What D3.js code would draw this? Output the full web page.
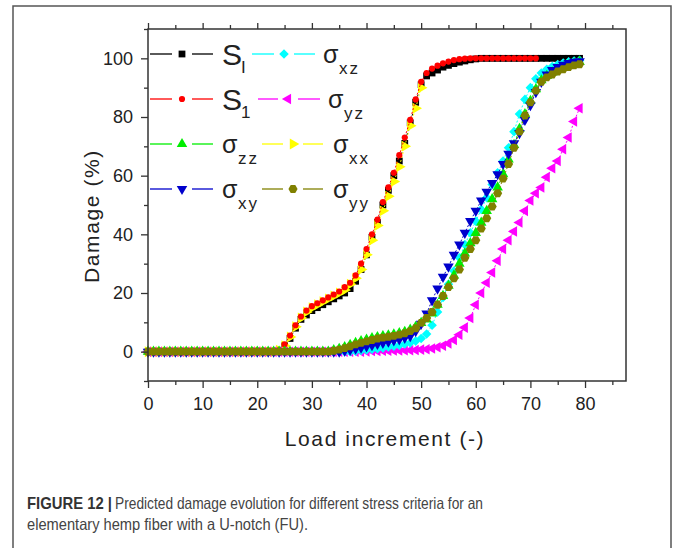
<!DOCTYPE html>
<html>
<head>
<meta charset="utf-8">
<script src="https://cdn.jsdelivr.net/npm/d3@7"></script>
<style>
  body { margin: 0; background: #fff; }
  text { font-family: "Liberation Sans", Arial, sans-serif; }
</style>
</head>
<body>
<svg id="canvas"></svg>
<script>
// damage (%) per load increment, index = load increment
let sL = [0,0,0,0,0,0,0,0,0,0,
          0,0,0,0,0,0,0,0,0,0,
          0,0,0,0,0.5,2,4.5,8,11,12.5,
          14,15,16,17,18,19,20,21.5,24,28,
          33,39,44,50,55,60,65,71,78,85,
          91,94,95,96,97,97.6,98.2,98.7,99.1,99.5,
          99.8,100,100,100,100,100,100,100,100,100,
          100,100,100,100,100,100,100,100,100,100];
let s1 = [0,0,0,0,0,0,0,0,0,0,
          0,0,0,0,0,0,0,0,0,0,
          0,0,0,0,0.5,2.5,5.5,9,12,14,
          15.5,16.5,17.5,18.5,19.5,20.5,22,23.5,26,30,
          35,40,45,51,56,61,67,73,79,86,
          92,95,96.5,97.5,98.3,98.9,99.4,99.7,99.9,100,
          100,100,100,100,100,100,100,100,100,100,
          100,100];
let sigXX = [0,0,0,0,0,0,0,0,0,0,
             0,0,0,0,0,0,0,0,0,0,
             0,0,0,0,0.5,2,5,8.5,11.5,13.5,
             15,16,17,18,19,20,21,23,25,28,
             33,38,43,48,53,58,63,70,77,83,
             90];
let sigYY = [0,0,0,0,0,0,0,0,0,0,
             0,0,0,0,0,0,0,0,0,0,
             0,0,0,0,0,0,0,0,0,0,
             0,0,0,0,0.3,0.7,1.2,1.8,2.5,3,
             3.5,4,4.5,4.8,5.1,5.4,5.8,6.3,7,8,
             9.8,11.5,13.5,16,19,22,25,28,32,35,
             38,42,45.5,49.5,54,59,64,69.5,75,80.5,
             85,89,92,93.5,94.5,95.5,96.3,97,97.6,98];
let sigZZ = [0,0,0,0,0,0,0,0,0,0,
             0,0,0,0,0,0,0,0,0,0,
             0,0,0,0,0,0,0,0,0,0,
             0,0,0,0,0.5,1,1.6,2.3,3,3.6,
             4.1,4.6,5,5.3,5.6,5.9,6.3,6.8,7.5,8.5,
             9.8,11,13,16,19,22.5,26,30,33.5,37,
             40.5,44,48,52,56,60.5,65.5,70.5,76,81,
             85.5,89.5,92.5,94,95.2,96.2,97,97.7,98.3,98.8];
let sigXY = [0,0,0,0,0,0,0,0,0,0,
             0,0,0,0,0,0,0,0,0,0,
             0,0,0,0,0,0,0,0,0,0,
             0,0,0,0,0,0,0.3,0.6,1,1.4,
             1.8,2.2,2.6,3,3.4,3.8,4.2,4.7,5.3,7,
             9.5,13,17.5,21.5,25.5,29,33,36.5,40.5,44.5,
             48,51.5,54.5,57.5,60.5,64,67.5,71,74.5,79,
             84,88.5,92,94.5,96,97,97.8,98.4,98.8,99];
let sigXZ = [0,0,0,0,0,0,0,0,0,0,
             0,0,0,0,0,0,0,0,0,0,
             0,0,0,0,0,0,0,0,0,0,
             0,0,0,0,0,0,0,0,0.2,0.4,
             0.6,0.8,1,1.3,1.6,1.9,2.2,2.6,3,3.6,
             4.5,6,9,13.5,18.5,23,27.5,32,36.5,40.5,
             44.5,48.5,52.5,57,61,65,69.5,75,81,86,
             90,93,95,96.3,97.2,97.9,98.4,98.8,99.1,99.3];
let sigYZ = [0,0,0,0,0,0,0,0,0,0,
             0,0,0,0,0,0,0,0,0,0,
             0,0,0,0,0,0,0,0,0,0,
             0,0,0,0,0,0,0,0,0,0,
             0.1,0.2,0.2,0.3,0.3,0.4,0.4,0.5,0.5,0.6,
             0.7,0.8,1.1,1.5,2,2.8,4,5.8,8.2,11.5,
             16,20,23.5,27,31,35,38,41,44,48,
             51.5,54,56,59.5,62.5,65,69,73,78.5,83];

let xTicks = [0, 10, 20, 30, 40, 50, 60, 70, 80];
let xMinor = [5, 15, 25, 35, 45, 55, 65, 75, 85];
let yTicks = [0, 20, 40, 60, 80, 100];
let yMinor = [-10, 10, 30, 50, 70, 90, 110];

let width = 673;
let height = 548;
let plotLeft = 148, plotRight = 626, plotTop = 29, plotBottom = 381;

let hexagon = {
    draw: (ctx, size) => {
        let r = Math.sqrt(size / (3 * Math.sqrt(3) / 2));
        for (let i = 0; i < 6; i++) {
            let a = Math.PI / 3 * i;
            if (i == 0) ctx.moveTo(r * Math.cos(a), r * Math.sin(a));
            else ctx.lineTo(r * Math.cos(a), r * Math.sin(a));
        }
        ctx.closePath();
    }
};

// marker: [symbol type, rotation, size]
let markers = {
    square: [d3.symbolSquare, 0, 46],
    circle: [d3.symbolCircle, 0, 30],
    up: [d3.symbolTriangle, 0, 48],
    down: [d3.symbolTriangle, 180, 48],
    left: [d3.symbolTriangle, -90, 48],
    right: [d3.symbolTriangle, 90, 52],
    diamond: [d3.symbolSquare, 45, 46],
    hex: [hexagon, 0, 54]
};

// drawn in this order
let series = [
    {key: "l", data: sL, color: "#000000", marker: "square"},
    {key: "xx", data: sigXX, color: "#ffff00", marker: "right"},
    {key: "1", data: s1, color: "#ff0000", marker: "circle"},
    {key: "yz", data: sigYZ, color: "#ff00ff", marker: "left"},
    {key: "xz", data: sigXZ, color: "#00ffff", marker: "diamond"},
    {key: "zz", data: sigZZ, color: "#00ee00", marker: "up"},
    {key: "xy", data: sigXY, color: "#0000cc", marker: "down"},
    {key: "yy", data: sigYY, color: "#808000", marker: "hex"}
];

// legend: key, big letter, subscript, row y, line start/end, marker x, text x
let legendRows = [
    ["l", "S", "I", 54, 150, 213, 182, 222],
    ["1", "S", "1", 99, 150, 213, 182, 222],
    ["zz", "σ", "zz", 144, 150, 213, 182, 222],
    ["xy", "σ", "xy", 189, 150, 213, 182, 222],
    ["xz", "σ", "xz", 54, 252, 315, 284, 323],
    ["yz", "σ", "yz", 99, 258, 320, 288, 328],
    ["xx", "σ", "xx", 144, 262, 323, 293, 333],
    ["yy", "σ", "yy", 189, 262, 323, 293, 333]
];

let canvas = d3.select("#canvas")
    .attr("width", width)
    .attr("height", height);

canvas.append("rect")
    .attr("width", width).attr("height", height)
    .attr("fill", "#fff");

// outer figure frame
canvas.append("rect")
    .attr("x", 13).attr("y", 6)
    .attr("width", 658).attr("height", 620)
    .attr("fill", "none")
    .attr("stroke", "#555")
    .attr("stroke-width", 1.5);

let xScale = d3.scaleLinear().domain([0, 87.5]).range([plotLeft, plotRight]);
let yScale = d3.scaleLinear().domain([-10, 110]).range([plotBottom, plotTop]);

let symbolPath = (name) => {
    let m = markers[name];
    return d3.symbol().type(m[0]).size(m[2])();
};

let drawAxes = () => {
    let styleAxis = (g) => {
        g.select(".domain").remove();
        g.selectAll("line").attr("stroke", "#333").attr("stroke-width", 1.3);
        g.selectAll("text")
            .attr("font-size", "18px")
            .attr("fill", "#222")
            .attr("font-family", "Liberation Sans, Arial, sans-serif");
    };

    canvas.append("g")
        .attr("transform", "translate(0," + plotBottom + ")")
        .call(d3.axisBottom(xScale).tickValues(xTicks).tickSize(7).tickPadding(9).tickFormat(d3.format("d")))
        .call(styleAxis);
    canvas.append("g")
        .attr("transform", "translate(0," + plotBottom + ")")
        .call(d3.axisBottom(xScale).tickValues(xMinor).tickSize(4).tickFormat(""))
        .call(styleAxis);
    canvas.append("g")
        .attr("transform", "translate(0," + plotTop + ")")
        .call(d3.axisTop(xScale).tickValues(xTicks).tickSize(6).tickFormat(""))
        .call(styleAxis);
    canvas.append("g")
        .attr("transform", "translate(0," + plotTop + ")")
        .call(d3.axisTop(xScale).tickValues(xMinor).tickSize(4).tickFormat(""))
        .call(styleAxis);

    canvas.append("g")
        .attr("transform", "translate(" + plotLeft + ",0)")
        .call(d3.axisLeft(yScale).tickValues(yTicks).tickSize(7).tickPadding(8).tickFormat(d3.format("d")))
        .call(styleAxis);
    canvas.append("g")
        .attr("transform", "translate(" + plotLeft + ",0)")
        .call(d3.axisLeft(yScale).tickValues(yMinor).tickSize(4).tickFormat(""))
        .call(styleAxis);

    canvas.append("rect")
        .attr("x", plotLeft).attr("y", plotTop)
        .attr("width", plotRight - plotLeft).attr("height", plotBottom - plotTop)
        .attr("fill", "none")
        .attr("stroke", "#333")
        .attr("stroke-width", 1.5);

    canvas.append("text")
        .text("Load increment (-)")
        .attr("x", (plotLeft + plotRight) / 2 - 2)
        .attr("y", 446)
        .attr("text-anchor", "middle")
        .attr("font-size", "21px")
        .attr("letter-spacing", "1.6px")
        .attr("fill", "#222");

    canvas.append("text")
        .text("Damage (%)")
        .attr("transform", "translate(99,216) rotate(-90)")
        .attr("text-anchor", "middle")
        .attr("font-size", "21px")
        .attr("letter-spacing", "1.6px")
        .attr("fill", "#222");
};

let drawSeries = () => {
    let line = d3.line()
        .x((d, i) => xScale(i))
        .y((d) => yScale(d));

    series.forEach((s) => {
        let g = canvas.append("g").attr("class", "series-" + s.key);
        g.append("path")
            .datum(s.data)
            .attr("d", line)
            .attr("fill", "none")
            .attr("stroke", s.color)
            .attr("stroke-width", 1)
            .attr("stroke-dasharray", "2,2");
        let m = markers[s.marker];
        g.selectAll("path.mark")
            .data(s.data)
            .enter()
            .append("path")
            .attr("class", "mark")
            .attr("d", symbolPath(s.marker))
            .attr("transform", (d, i) => "translate(" + xScale(i) + "," + yScale(d) + ") rotate(" + m[1] + ")")
            .attr("fill", s.color);
    });
};

let drawLegend = () => {
    let lg = canvas.append("g").attr("id", "legend");
    legendRows.forEach((r) => {
        let s = series.find((d) => d.key == r[0]);
        let m = markers[s.marker];
        let cy = r[3];
        lg.append("line")
            .attr("x1", r[4]).attr("x2", r[6] - 10)
            .attr("y1", cy).attr("y2", cy)
            .attr("stroke", s.color).attr("stroke-width", 1.3);
        lg.append("line")
            .attr("x1", r[6] + 10).attr("x2", r[5])
            .attr("y1", cy).attr("y2", cy)
            .attr("stroke", s.color).attr("stroke-width", 1.3);
        lg.append("path")
            .attr("d", symbolPath(s.marker))
            .attr("transform", "translate(" + r[6] + "," + cy + ") rotate(" + m[1] + ")")
            .attr("fill", s.color);

        let isS = r[1] == "S";
        lg.append("text")
            .text(r[1])
            .attr("x", r[7])
            .attr("y", isS ? cy + 11 : cy + 9)
            .attr("font-size", isS ? "30px" : "25px")
            .attr("fill", "#222");
        lg.append("text")
            .text(r[2])
            .attr("x", r[7] + (isS ? 19 : 16))
            .attr("y", isS ? cy + 19 : cy + 20)
            .attr("font-size", "17px")
            .attr("letter-spacing", "2px")
            .attr("fill", "#222");
    });
};

let drawCaption = () => {
    canvas.append("text")
        .text("FIGURE 12 |")
        .attr("x", 27).attr("y", 509)
        .attr("font-size", "16.5px")
        .attr("font-weight", "bold")
        .attr("fill", "#333")
        .attr("textLength", 85)
        .attr("lengthAdjust", "spacingAndGlyphs");

    canvas.append("text")
        .text("Predicted damage evolution for different stress criteria for an")
        .attr("x", 115).attr("y", 509)
        .attr("font-size", "16.5px")
        .attr("fill", "#444")
        .attr("textLength", 368)
        .attr("lengthAdjust", "spacingAndGlyphs");

    canvas.append("text")
        .text("elementary hemp fiber with a U-notch (FU).")
        .attr("x", 27).attr("y", 530)
        .attr("font-size", "16.5px")
        .attr("fill", "#444")
        .attr("textLength", 281)
        .attr("lengthAdjust", "spacingAndGlyphs");
};

drawSeries();
drawAxes();
drawLegend();
drawCaption();
</script>
</body>
</html>
